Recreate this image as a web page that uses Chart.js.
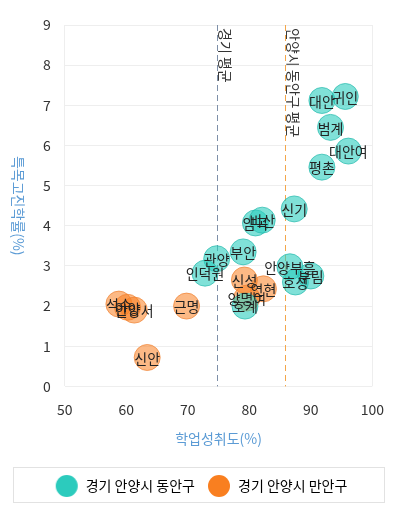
<!DOCTYPE html>
<html>
<head>
<meta charset="utf-8">
<script src="https://cdn.jsdelivr.net/npm/chart.js@4/dist/chart.umd.min.js"></script>
<style>
    body { margin: 0; background: #fff; }
    #wrap { width: 399px; height: 513px; }
</style>
</head>
<body>
<div id="wrap"><canvas id="schoolChart"></canvas></div>
<script>
// 경기 안양시 동안구
const donganNames = ['귀인', '대안', '범계', '대안여', '평촌', '신기', '임곡', '비산', '부안', '관양', '인덕원', '안양부흥', '호성', '부림', '호계'];
const donganX = [95.6, 91.8, 93.2, 96.1, 91.8, 87.3, 81.0, 82.1, 79.0, 74.7, 72.8, 86.6, 87.5, 90.0, 79.3];
const donganY = [7.22, 7.12, 6.45, 5.86, 5.46, 4.42, 4.07, 4.14, 3.35, 3.18, 2.82, 2.98, 2.60, 2.75, 2.00];

// 경기 안양시 만안구
const mananNames = ['신성', '연현', '양명여', '근명', '신안', '석수', '안양', '안양서'];
const mananX = [79.2, 82.3, 79.6, 69.8, 63.4, 58.8, 60.2, 61.3];
const mananY = [2.65, 2.43, 2.20, 2.00, 0.72, 2.05, 1.97, 1.90];

// 평균선
const avgNames = ['경기 평균', '안양시 동안구 평균'];
const avgValues = [74.8, 85.8];
const avgColors = ['#7d8fa8', '#f3a64a'];

const xTicks = [50, 60, 70, 80, 90, 100];
const yTicks = [0, 1, 2, 3, 4, 5, 6, 7, 8, 9];

const FONT = "'Noto Sans CJK KR', 'Noto Sans', sans-serif";

function toPoints(xs, ys) {
    return xs.map((x, i) => ({ x: x, y: ys[i] }));
}

// legend marker as a small canvas
function legendDot(color) {
    const c = document.createElement('canvas');
    c.width = 24; c.height = 24;
    const g = c.getContext('2d');
    g.fillStyle = color;
    g.beginPath();
    g.arc(12, 12, 11, 0, Math.PI * 2);
    g.fill();
    return c;
}

const pointLabels = {
    id: 'pointLabels',
    afterDatasetsDraw(chart) {
        const ctx = chart.ctx;
        ctx.save();
        ctx.font = '14px ' + FONT;
        ctx.fillStyle = '#222';
        ctx.textAlign = 'center';
        ctx.textBaseline = 'middle';
        chart.data.datasets.forEach((ds, i) => {
            chart.getDatasetMeta(i).data.forEach((el, j) => {
                ctx.fillText(ds.names[j], el.x, el.y + 1);
            });
        });
        ctx.restore();
    }
};

const avgLines = {
    id: 'avgLines',
    beforeDatasetsDraw(chart) {
        const ctx = chart.ctx;
        const area = chart.chartArea;
        const xs = chart.scales.x;
        ctx.save();
        avgValues.forEach((v, i) => {
            const px = Math.round(xs.getPixelForValue(v)) + 0.5;
            ctx.strokeStyle = avgColors[i];
            ctx.lineWidth = 1;
            ctx.setLineDash([6, 4]);
            ctx.beginPath();
            ctx.moveTo(px, area.top);
            ctx.lineTo(px, area.bottom);
            ctx.stroke();

            ctx.save();
            ctx.translate(px + 1, area.top + 3);
            ctx.rotate(Math.PI / 2);
            ctx.font = '14px ' + FONT;
            ctx.fillStyle = '#333';
            ctx.textAlign = 'left';
            ctx.textBaseline = 'bottom';
            ctx.fillText(avgNames[i], 0, 0);
            ctx.restore();
        });
        ctx.restore();
    },
    afterDraw(chart) {
        const ctx = chart.ctx;
        const area = chart.chartArea;
        ctx.save();
        // y axis title, reading top to bottom
        ctx.translate(18, (area.top + area.bottom) / 2);
        ctx.rotate(Math.PI / 2);
        ctx.font = '14px ' + FONT;
        ctx.fillStyle = '#5b9bd5';
        ctx.textAlign = 'center';
        ctx.textBaseline = 'middle';
        ctx.fillText('특목고진학률(%)', 0, 0);
        ctx.restore();

        // legend frame
        const lg = chart.legend;
        ctx.save();
        ctx.strokeStyle = '#e2e2e2';
        ctx.lineWidth = 1;
        ctx.strokeRect(13.5, Math.round(lg.top) + 0.5, 371, Math.round(lg.height) - 1);
        ctx.restore();
    }
};

const ctx = document.getElementById('schoolChart');
const schoolChart = new Chart(ctx.getContext('2d'), {
    type: 'scatter',
    data: {
        datasets: [
            {
                label: '경기 안양시 동안구',
                names: donganNames,
                data: toPoints(donganX, donganY),
                backgroundColor: 'rgba(43, 205, 190, 0.6)',
                borderColor: 'rgba(35, 185, 172, 0.7)',
                borderWidth: 1,
                pointRadius: 13,
                legendColor: '#2ccbbd'
            },
            {
                label: '경기 안양시 만안구',
                names: mananNames,
                data: toPoints(mananX, mananY),
                backgroundColor: 'rgba(249, 128, 32, 0.55)',
                borderColor: 'rgba(240, 130, 50, 0.7)',
                borderWidth: 1,
                pointRadius: 13,
                legendColor: '#f97f20'
            }
        ]
    },
    options: {
        responsive: true,
        maintainAspectRatio: false,
        animation: false,
        events: [],
        layout: { padding: { left: 29, right: 26, top: 25, bottom: 10 } },
        scales: {
            x: {
                min: 50,
                max: 100,
                afterBuildTicks: axis => { axis.ticks = xTicks.map(v => ({ value: v })); },
                grid: {
                    drawTicks: false,
                    color: c => (c.tick && (c.tick.value === 50 || c.tick.value === 100)) ? '#eeeeee' : 'rgba(0,0,0,0)'
                },
                border: { display: false },
                ticks: { padding: 15, color: '#333', font: { size: 14, family: FONT } },
                title: {
                    display: true,
                    text: '학업성취도(%)',
                    color: '#5b9bd5',
                    font: { size: 14, family: FONT },
                    padding: { top: -3, bottom: 20 }
                }
            },
            y: {
                min: 0,
                max: 9,
                afterBuildTicks: axis => { axis.ticks = yTicks.map(v => ({ value: v })); },
                grid: { drawTicks: false, color: '#eeeeee' },
                border: { display: false },
                ticks: { padding: 14, color: '#333', font: { size: 14, family: FONT } }
            }
        },
        plugins: {
            tooltip: { enabled: false },
            legend: {
                position: 'bottom',
                labels: {
                    usePointStyle: true,
                    pointStyleWidth: 24,
                    padding: 12,
                    color: '#333',
                    font: { size: 14, family: FONT },
                    generateLabels: function(chart) {
                        return chart.data.datasets.map((ds, i) => ({
                            text: ds.label,
                            fillStyle: ds.legendColor,
                            strokeStyle: ds.legendColor,
                            lineWidth: 0,
                            pointStyle: legendDot(ds.legendColor),
                            hidden: false,
                            datasetIndex: i
                        }));
                    }
                }
            }
        }
    },
    plugins: [avgLines, pointLabels]
});
</script>
</body>
</html>
